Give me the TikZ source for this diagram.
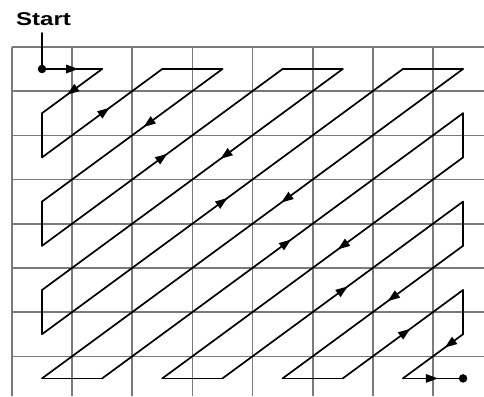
\documentclass[tikz,border=0pt]{standalone}
\usepackage{fontspec}
\setmainfont{Liberation Sans}
\usetikzlibrary{decorations.markings}
\begin{document}
\begin{tikzpicture}[x=1pt,y=-1pt,
  gridline/.style={draw=black!52, line width=1.7pt},
  zz/.style={draw=black, line width=1.7pt, line cap=round, line join=round},
  flow/.style={zz, postaction={decorate}, decoration={markings, mark=at position #1 with {\fill[black] (6pt,0pt) -- (-6pt,4.5pt) -- (-6pt,-4.5pt) -- cycle;}}},
  dot/.style={circle, fill=black, inner sep=0pt, minimum size=8.5pt},
  label/.style={font=\bfseries\fontsize{18.5}{18.5}\selectfont, xscale=1.3, transform shape, inner sep=0pt}]
\useasboundingbox (0,0) rectangle (484,396);
\fill[white] (0,0) rectangle (484,396);
% grid
\foreach \k in {0,...,8} { \draw[gridline] (12,47+44.2*\k) -- (484,47+44.2*\k); }
\foreach \k in {0,...,7} { \draw[gridline] (12+60.15*\k,47) -- (12+60.15*\k,396); }
% cell centres
\foreach \i in {0,...,7} { \foreach \j in {0,...,7} { \coordinate (c\i\j) at (42+60.15*\i, 69+44.2*\j); } }
% start label
\node[label] (start) at (43.5,19.5) {Start};
\coordinate (s0) at (42,33);
\draw[zz] (s0) -- (c00);
% zigzag
\draw[flow=0.5] (c00) -- (c10);
\draw[flow=0.5] (c10) -- (c01);
\draw[zz] (c01) -- (c02);
\draw[flow=0.52] (c02) -- (c20);
\draw[zz] (c20) -- (c30);
\draw[flow=0.41] (c30) -- (c03);
\draw[zz] (c03) -- (c04);
\draw[flow=0.5] (c04) -- (c40);
\draw[zz] (c40) -- (c50);
\draw[flow=0.39] (c50) -- (c05);
\draw[zz] (c05) -- (c06);
\draw[flow=0.5] (c06) -- (c60);
\draw[zz] (c60) -- (c70);
\draw[flow=0.42] (c70) -- (c07);
\draw[zz] (c07) -- (c17);
\draw[flow=0.51] (c17) -- (c71);
\draw[zz] (c71) -- (c72);
\draw[flow=0.40] (c72) -- (c27);
\draw[zz] (c27) -- (c37);
\draw[flow=0.5] (c37) -- (c73);
\draw[zz] (c73) -- (c74);
\draw[flow=0.39] (c74) -- (c47);
\draw[zz] (c47) -- (c57);
\draw[flow=0.52] (c57) -- (c75);
\draw[zz] (c75) -- (c76);
\draw[flow=0.22] (c76) -- (c67);
\draw[flow=0.48] (c67) -- (c77);
% dots
\node[dot] (d0) at (c00) {};
\node[dot] (d1) at (c77) {};
\end{tikzpicture}
\end{document}
